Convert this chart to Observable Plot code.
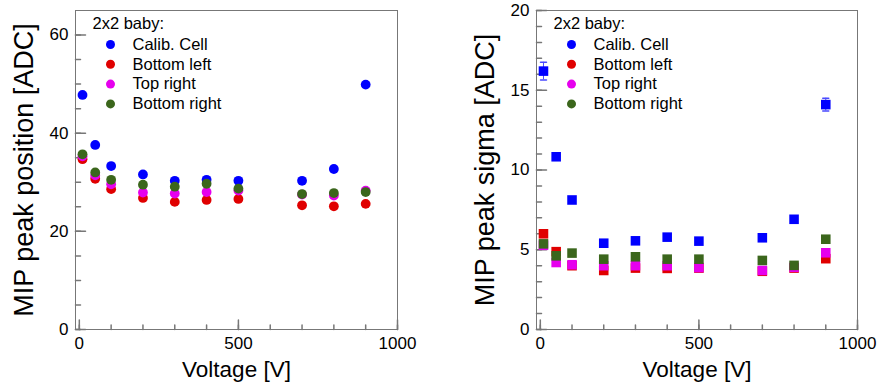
<!DOCTYPE html>
<html>
<head>
<meta charset="utf-8">
<script src="https://cdn.jsdelivr.net/npm/d3@7"></script>
<script src="https://cdn.jsdelivr.net/npm/@observablehq/plot@0.6"></script>
<style>
  html, body { margin: 0; padding: 0; background: white; }
  #wrap { display: flex; width: 882px; height: 385px; }
</style>
</head>
<body>
<div id="wrap"></div>
<script>
// ---------- data ----------
const voltages = [10, 50, 100, 200, 300, 400, 500, 700, 800, 900];
const seriesNames = ["Calib. Cell", "Bottom left", "Top right", "Bottom right"];
const seriesColors = ["#0000ff", "#e00000", "#e600ee", "#3b661c"];
const legendHeader = "2x2 baby:";

// MIP peak position [ADC]
const posCalib       = [47.8, 37.6, 33.3, 31.6, 30.3, 30.5, 30.3, 30.3, 32.7, 49.9];
const posBottomLeft  = [34.7, 30.7, 28.6, 26.8, 26.0, 26.4, 26.6, 25.3, 25.1, 25.6];
const posTopRight    = [35.3, 31.4, 29.6, 27.9, 27.7, 28.0, 28.3, 27.5, 27.3, 28.3];
const posBottomRight = [35.7, 32.0, 30.5, 29.5, 29.1, 29.7, 28.7, 27.6, 27.8, 28.0];

// MIP peak sigma [ADC]
const sigCalib       = [16.2, 10.83, 8.12, 5.41, 5.56, 5.79, 5.54, 5.75, 6.91, 14.1];
const sigCalibErr    = [0.55, 0.15, 0.12, 0.08, 0.08, 0.08, 0.08, 0.08, 0.1, 0.4];
const sigBottomLeft  = [6.0, 4.88, 4.0, 3.7, 3.85, 3.83, 3.85, 3.65, 3.85, 4.44];
const sigTopRight    = [5.28, 4.2, 4.06, 4.0, 4.0, 4.0, 3.88, 3.7, 3.9, 4.81];
const sigBottomRight = [5.37, 4.62, 4.79, 4.41, 4.56, 4.41, 4.41, 4.33, 4.02, 5.66];

// axes
const xDomain = [-12, 1000];
const xMajorTicks = [0, 500, 1000];
const xMinorTicks = [0, 100, 200, 300, 400, 500, 600, 700, 800, 900, 1000];
const posDomain = [0, 65];
const posMajorTicks = [0, 20, 40, 60];
const posMinorTicks = [0, 5, 10, 15, 20, 25, 30, 35, 40, 45, 50, 55, 60];
const sigDomain = [0, 20];
const sigMajorTicks = [0, 5, 10, 15, 20];
const sigMinorTicks = d3.range(0, 21, 1);
const xTitle = "Voltage [V]";
const posTitle = "MIP peak position [ADC]";
const sigTitle = "MIP peak sigma [ADC]";

// ---------- drawing ----------
const FONT = "'Liberation Sans', Arial, Helvetica, sans-serif";
const GRAY = "#777777";
const line = { draw(ctx, l) { ctx.moveTo(0, 0); ctx.lineTo(0, -l); } };
const plain = d => String(d);

function toRows(values, name, err) {
  return voltages.map((v, i) => ({ v, y: values[i], name, err: err ? err[i] : 0 }));
}

function panel({ series, yDomain, yMajor, yMinor, yTitle, marginLeft, marginRight, symbol, r, errSeries }) {
  const marks = [
    Plot.frame({ stroke: GRAY, strokeWidth: 1 }),
    Plot.vector(yMinor, { y: d => d, frameAnchor: "left", length: 5, rotate: 90, anchor: "start", shape: line, stroke: GRAY }),
    Plot.vector(yMajor, { y: d => d, frameAnchor: "left", length: 10, rotate: 90, anchor: "start", shape: line, stroke: GRAY }),
    Plot.vector(xMinorTicks, { x: d => d, frameAnchor: "bottom", length: 4.5, rotate: 0, anchor: "start", shape: line, stroke: GRAY }),
    Plot.vector(xMajorTicks, { x: d => d, frameAnchor: "bottom", length: 9.5, rotate: 0, anchor: "start", shape: line, stroke: GRAY }),
    Plot.axisY({ ticks: yMajor, tickSize: 0, tickPadding: 7, label: null, fontSize: 17, tickFormat: plain }),
    Plot.axisX({ ticks: xMajorTicks, tickSize: 0, tickPadding: 7, label: null, fontSize: 17, tickFormat: plain }),
    Plot.text([yTitle], { text: d => d, frameAnchor: "left", rotate: -90, dx: -43, lineAnchor: "bottom", textAnchor: "middle", fontSize: 27 }),
    Plot.text([xTitle], { text: d => d, frameAnchor: "bottom", dy: 47.7, lineAnchor: "bottom", textAnchor: "middle", fontSize: 22.5 })
  ];
  if (errSeries) {
    const rows = toRows(errSeries.values, errSeries.name, errSeries.err);
    marks.push(
      Plot.ruleX(rows, { x: "v", y1: d => d.y - d.err, y2: d => d.y + d.err, stroke: "#4a4aff", strokeWidth: 1 }),
      Plot.vector(rows, { x: "v", y: d => d.y + d.err, length: 6, rotate: 90, anchor: "middle", shape: line, stroke: "#4a4aff" }),
      Plot.vector(rows, { x: "v", y: d => d.y - d.err, length: 6, rotate: 90, anchor: "middle", shape: line, stroke: "#4a4aff" })
    );
  }
  series.forEach((vals, i) => {
    marks.push(Plot.dot(toRows(vals, seriesNames[i]), {
      x: "v", y: "y", r, symbol, fill: seriesColors[i], stroke: null
    }));
  });
  // legend
  marks.push(Plot.text([legendHeader], { text: d => d, frameAnchor: "top-left", dx: 17, dy: 18, lineAnchor: "bottom", textAnchor: "start", fontSize: 16.5 }));
  seriesNames.forEach((name, i) => {
    const dy = 34 + 19.8 * i;
    marks.push(
      Plot.dot([name], { frameAnchor: "top-left", dx: 35, dy, r: 4.5, fill: seriesColors[i], stroke: null }),
      Plot.text([name], { text: d => d, frameAnchor: "top-left", dx: 57, dy, lineAnchor: "middle", textAnchor: "start", fontSize: 16.5 })
    );
  });
  return Plot.plot({
    width: 441,
    height: 385,
    marginLeft,
    marginRight,
    marginTop: 10,
    marginBottom: 56,
    x: { domain: xDomain },
    y: { domain: yDomain },
    style: { fontFamily: FONT, fontSize: "17px", color: "black", background: "white", overflow: "visible" },
    marks
  });
}

const wrap = document.getElementById("wrap");
wrap.appendChild(panel({
  series: [posCalib, posBottomLeft, posTopRight, posBottomRight],
  yDomain: posDomain, yMajor: posMajorTicks, yMinor: posMinorTicks, yTitle: posTitle,
  marginLeft: 75, marginRight: 44, symbol: "circle", r: 4.9
}));
wrap.appendChild(panel({
  series: [sigCalib, sigBottomLeft, sigTopRight, sigBottomRight],
  yDomain: sigDomain, yMajor: sigMajorTicks, yMinor: sigMinorTicks, yTitle: sigTitle,
  marginLeft: 95, marginRight: 25, symbol: "square", r: 5.4,
  errSeries: { values: sigCalib, name: seriesNames[0], err: sigCalibErr }
}));
</script>
</body>
</html>
